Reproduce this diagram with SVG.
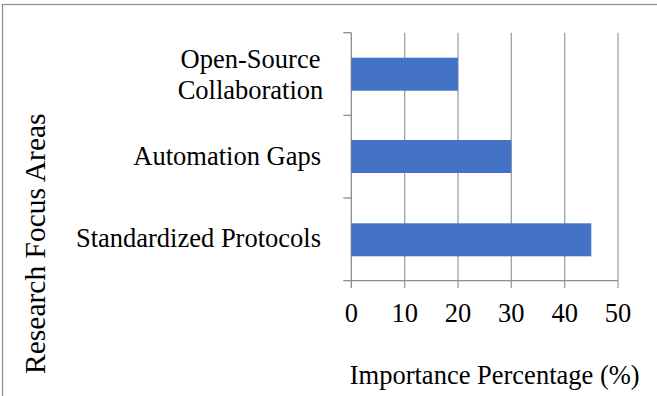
<svg xmlns="http://www.w3.org/2000/svg" width="657" height="396" viewBox="0 0 657 396">
  <style>
    text { font-family: "Liberation Serif", "Times New Roman", serif; fill: #000; }
    .lbl { font-size: 26.5px; }
    .grid { stroke: #a0a0a0; stroke-width: 1.3; fill: none; }
    .axis { stroke: #8c8c8c; stroke-width: 1.3; fill: none; }
    .bar { fill: #4472C4; }
  </style>
  <rect width="657" height="396" fill="#ffffff"/>
  <!-- chart area border -->
  <rect x="2.5" y="4.5" width="700" height="500" fill="none" stroke="#8c8c8c" stroke-width="1.2"/>

  <g id="gridlines">
    <line class="grid" x1="404.7" y1="32.7" x2="404.7" y2="288"/>
    <line class="grid" x1="458" y1="32.7" x2="458" y2="288"/>
    <line class="grid" x1="511.3" y1="32.7" x2="511.3" y2="288"/>
    <line class="grid" x1="564.7" y1="32.7" x2="564.7" y2="288"/>
    <line class="grid" x1="618" y1="32.7" x2="618" y2="288"/>
  </g>

  <g id="axes">
    <line class="axis" x1="351.3" y1="32.7" x2="351.3" y2="288"/>
    <line class="axis" x1="343.3" y1="280.7" x2="618" y2="280.7"/>
    <line class="axis" x1="343.3" y1="32.7" x2="351.3" y2="32.7"/>
    <line class="axis" x1="343.3" y1="115.4" x2="351.3" y2="115.4"/>
    <line class="axis" x1="343.3" y1="198" x2="351.3" y2="198"/>
  </g>

  <g id="bar-open-source">
    <rect class="bar" x="351.3" y="57.7" width="106.7" height="33"/>
    <text class="lbl" x="250.5" y="67.5" text-anchor="middle">Open-Source</text>
    <text class="lbl" x="250.5" y="98.5" text-anchor="middle">Collaboration</text>
  </g>
  <g id="bar-automation">
    <rect class="bar" x="351.3" y="140" width="160" height="33"/>
    <text class="lbl" x="321" y="165" text-anchor="end">Automation Gaps</text>
  </g>
  <g id="bar-standardized">
    <rect class="bar" x="351.3" y="223.3" width="240" height="33"/>
    <text class="lbl" x="321" y="247" text-anchor="end">Standardized Protocols</text>
  </g>

  <g id="x-ticks" class="lbl" text-anchor="middle">
    <text x="351.3" y="321.5">0</text>
    <text x="404.7" y="321.5">10</text>
    <text x="458" y="321.5">20</text>
    <text x="511.3" y="321.5">30</text>
    <text x="564.7" y="321.5">40</text>
    <text x="618" y="321.5">50</text>
  </g>

  <g id="titles">
    <text class="lbl" x="494.7" y="384" text-anchor="middle">Importance Percentage (%)</text>
    <text class="lbl" transform="translate(45,243.7) rotate(-90)" text-anchor="middle" style="font-size:29.5px">Research Focus Areas</text>
  </g>
</svg>
